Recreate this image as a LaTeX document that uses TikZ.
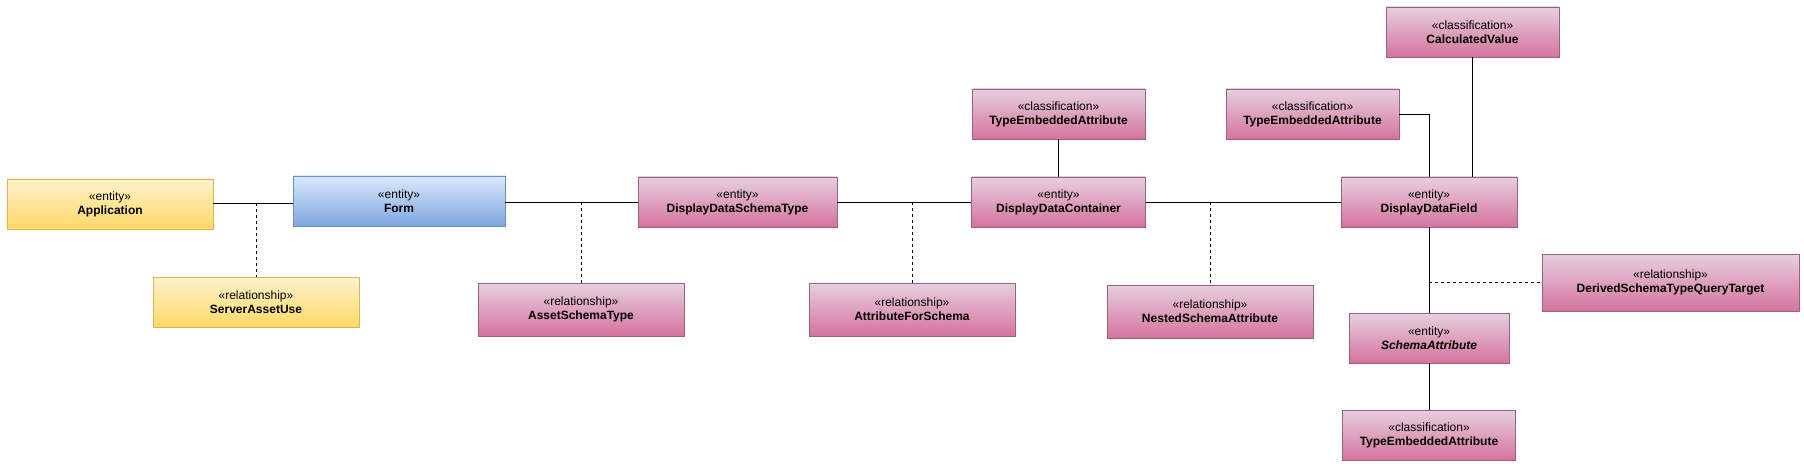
\documentclass[tikz,border=0pt]{standalone}
\usepackage{fontspec}
\setmainfont{Liberation Sans}
\usetikzlibrary{positioning}
\definecolor{SandTop}{HTML}{FFF2CC}
\definecolor{SandBottom}{HTML}{FFD966}
\definecolor{SandLine}{HTML}{D6B656}
\definecolor{SkyTop}{HTML}{DAE8FC}
\definecolor{SkyBottom}{HTML}{7EA6E0}
\definecolor{SkyLine}{HTML}{6C8EBF}
\definecolor{RoseTop}{HTML}{E6D0DE}
\definecolor{RoseBottom}{HTML}{D5739D}
\definecolor{RoseLine}{HTML}{996185}

\begin{document}
\begin{tikzpicture}[
    x=1pt, y=-1pt,
    box/.style={rectangle, line width=0.9pt, minimum height=50pt, minimum width=173pt,
      align=center, inner sep=2pt, font=\fontsize{12}{14}\selectfont},
    yellowbox/.style={box, draw=SandLine, top color=SandTop, bottom color=SandBottom},
    bluebox/.style={box, draw=SkyLine, top color=SkyTop, bottom color=SkyBottom},
    pinkbox/.style={box, draw=RoseLine, top color=RoseTop, bottom color=RoseBottom},
    link/.style={line width=0.9pt, draw=black},
    rellink/.style={link, dash pattern=on 3pt off 3pt}
  ]
    \useasboundingbox (0,0) rectangle (1804,473);
    \node[yellowbox, minimum width=206pt] (application) at (110,204) {«entity»\\\textbf{Application}};
    \node[yellowbox, minimum width=206pt] (serverassetuse) at (256,302) {«relationship»\\\textbf{ServerAssetUse}};
    \node[bluebox, minimum width=212pt] (form) at (399,201) {«entity»\\\textbf{Form}};
    \node[pinkbox, minimum width=206pt, minimum height=53pt] (assetschematype) at (581,309.5) {«relationship»\\\textbf{AssetSchemaType}};
    \node[pinkbox, minimum width=199pt] (ddschematype) at (737.5,202) {«entity»\\\textbf{DisplayDataSchemaType}};
    \node[pinkbox, minimum width=206pt, minimum height=53pt] (attrforschema) at (912,309.5) {«relationship»\\\textbf{AttributeForSchema}};
    \node[pinkbox] (embeddedA) at (1058.5,114) {«classification»\\\textbf{TypeEmbeddedAttribute}};
    \node[pinkbox, minimum width=174pt] (ddcontainer) at (1058.5,202) {«entity»\\\textbf{DisplayDataContainer}};
    \node[pinkbox, minimum width=206pt, minimum height=53pt] (nestedattr) at (1210,311.5) {«relationship»\\\textbf{NestedSchemaAttribute}};
    \node[pinkbox] (embeddedB) at (1312.5,114) {«classification»\\\textbf{TypeEmbeddedAttribute}};
    \node[pinkbox] (calculated) at (1472.5,32) {«classification»\\\textbf{CalculatedValue}};
    \node[pinkbox, minimum width=176pt] (ddfield) at (1429,202) {«entity»\\\textbf{DisplayDataField}};
    \node[pinkbox, minimum width=257pt, minimum height=57pt] (derivedtarget) at (1670.5,282.5) {«relationship»\\\textbf{DerivedSchemaTypeQueryTarget}};
    \node[pinkbox, minimum width=160pt] (schemaattr) at (1429,338) {«entity»\\\textbf{\textit{SchemaAttribute}}};
    \node[pinkbox] (embeddedC) at (1429,435) {«classification»\\\textbf{TypeEmbeddedAttribute}};

    \coordinate (j1) at (serverassetuse.north |- 0,203);
    \coordinate (j2) at (assetschematype.north |- ddschematype.west);
    \coordinate (j3) at (attrforschema.north |- ddschematype.east);
    \coordinate (j4) at (nestedattr.north |- ddcontainer.east);
    \coordinate (j5) at (ddfield.south |- derivedtarget.west);

    \draw[link] (application.east |- j1) -- (j1 -| form.west);
    \draw[link] (form.east |- ddschematype.west) -- (ddschematype.west);
    \draw[link] (ddschematype) -- (ddcontainer);
    \draw[link] (ddcontainer) -- (ddfield);
    \draw[link] (embeddedA) -- (ddcontainer);
    \draw[link] (embeddedB.east) -| (ddfield.north);
    \draw[link] (calculated) -- (calculated |- ddfield.north);
    \draw[link] (ddfield) -- (schemaattr);
    \draw[link] (schemaattr) -- (embeddedC);
    \draw[rellink] (j1) -- (serverassetuse);
    \draw[rellink] (j2) -- (assetschematype);
    \draw[rellink] (j3) -- (attrforschema);
    \draw[rellink] (j4) -- (nestedattr);
    \draw[rellink] (j5) -- (derivedtarget);
  \end{tikzpicture}
\end{document}
